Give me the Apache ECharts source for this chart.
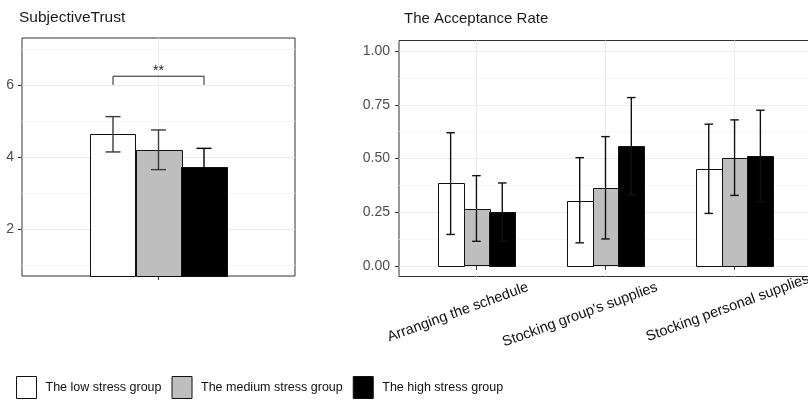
<!DOCTYPE html>
<html><head><meta charset="utf-8">
<script src="https://cdn.jsdelivr.net/npm/echarts@6/dist/echarts.min.js"></script>
<style>html,body{margin:0;padding:0;background:#fff}#c{width:808px;height:400px}</style>
</head><body><div id="c"></div>
<script>
// ---- data ----
const groups = ['The low stress group', 'The medium stress group', 'The high stress group'];
const trustMean = [4.63, 4.19, 3.72];
const trustLow  = [4.14, 3.65, 3.20];
const trustHigh = [5.12, 4.75, 4.24];
const trustTicks = [2, 4, 6];
const trustMinor = [1, 3, 5, 7];
const tasks = ['Arranging the schedule', "Stocking group's supplies", 'Stocking personal supplies'];
const lowRate  = [0.387, 0.302, 0.452];
const lowRateLo = [0.146, 0.107, 0.244];
const lowRateHi = [0.620, 0.504, 0.660];
const medRate  = [0.263, 0.361, 0.504];
const medRateLo = [0.114, 0.125, 0.328];
const medRateHi = [0.420, 0.602, 0.680];
const highRate = [0.250, 0.557, 0.512];
const highRateLo = [0.114, 0.330, 0.299];
const highRateHi = [0.386, 0.784, 0.725];
const rateTicks = [0, 0.25, 0.5, 0.75, 1];
const rateMinor = [0.125, 0.375, 0.625, 0.875];
const sigPair = [0, 2];      // low vs high
const sigLevel = 6.0, sigTop = 6.24, sigText = '**';

// ---- styles ----
const colors = ['#ffffff', '#bebebe', '#000000'];
const offsets = [-0.2, 0, 0.2];
const halfW = 0.1, capHalf = 0.033;
const FONT = '"Liberation Sans", Arial, sans-serif';
const labelTrail = ['\u00a0\u00a0\u00a0\u00a0\u00a0\u00a0', '\u00a0\u00a0\u00a0\u00a0\u00a0\u00a0', ''];

function barRender(offset, base, color) {
  return function (params, api) {
    const x = api.value(0) + offset, y = api.value(1);
    const p0 = api.coord([x - halfW, y]);
    const p1 = api.coord([x + halfW, base]);
    return { type: 'rect',
      shape: { x: Math.round(p0[0]) + 0.5, y: Math.round(p0[1]) + 0.5,
               width: Math.round(p1[0] - p0[0]), height: Math.round(p1[1] - p0[1]) },
      style: { fill: color, stroke: '#111', lineWidth: 1 } };
  };
}
function errRender(offset, stroke) {
  return function (params, api) {
    const x = api.value(0) + offset, lo = api.value(1), hi = api.value(2);
    const a = api.coord([x, lo]), b = api.coord([x, hi]);
    const c1 = api.coord([x - capHalf, hi]), c2 = api.coord([x + capHalf, hi]);
    const d1 = api.coord([x - capHalf, lo]), d2 = api.coord([x + capHalf, lo]);
    const st = { stroke: stroke, lineWidth: 1.4 };
    return { type: 'group', children: [
      { type: 'line', shape: { x1: a[0], y1: a[1], x2: b[0], y2: b[1] }, style: st },
      { type: 'line', shape: { x1: c1[0], y1: c1[1], x2: c2[0], y2: c2[1] }, style: st },
      { type: 'line', shape: { x1: d1[0], y1: d1[1], x2: d2[0], y2: d2[1] }, style: st }
    ] };
  };
}

const rateMeans = [lowRate, medRate, highRate];
const rateLos = [lowRateLo, medRateLo, highRateLo];
const rateHis = [lowRateHi, medRateHi, highRateHi];

const series = [];
groups.forEach(function (g, k) {
  series.push({ type: 'custom', name: g, xAxisIndex: 0, yAxisIndex: 0, z: 2,
    itemStyle: { color: colors[k], borderColor: '#111', borderWidth: 1 },
    renderItem: barRender(offsets[k], 0.7, colors[k]),
    data: [[1, trustMean[k]]] });
  series.push({ type: 'custom', name: g, xAxisIndex: 1, yAxisIndex: 2, z: 2,
    itemStyle: { color: colors[k], borderColor: '#111', borderWidth: 1 },
    renderItem: barRender(offsets[k], 0, colors[k]),
    data: rateMeans[k].map(function (v, i) { return [i + 1, v]; }) });
});
groups.forEach(function (g, k) {
  series.push({ type: 'custom', xAxisIndex: 0, yAxisIndex: 0, z: 3, silent: true,
    renderItem: errRender(offsets[k], k === 2 ? '#000' : '#3a3a3a'),
    data: [[1, trustLow[k], trustHigh[k]]] });
  series.push({ type: 'custom', xAxisIndex: 1, yAxisIndex: 2, z: 3, silent: true,
    renderItem: errRender(offsets[k], '#111'),
    data: rateMeans[k].map(function (v, i) { return [i + 1, rateLos[k][i], rateHis[k][i]]; }) });
});
series.push({ type: 'custom', xAxisIndex: 0, yAxisIndex: 0, z: 4, silent: true,
  renderItem: function (params, api) {
    const x0 = api.value(0) + offsets[sigPair[0]], x1 = api.value(0) + offsets[sigPair[1]];
    const a = api.coord([x0, api.value(1)]), b = api.coord([x0, api.value(2)]);
    const c = api.coord([x1, api.value(2)]), d = api.coord([x1, api.value(1)]);
    return { type: 'group', children: [
      { type: 'polyline', shape: { points: [a, b, c, d] }, style: { stroke: '#222', lineWidth: 1, fill: null } },
      { type: 'text', style: { text: sigText, x: (b[0] + c[0]) / 2, y: b[1] + 2, align: 'center',
        verticalAlign: 'bottom', fontSize: 14, fontFamily: FONT, fill: '#222' } }
    ] };
  },
  data: [[1, sigLevel, sigTop]] });

const gridLine = { lineStyle: { color: '#ebebeb', width: 1 } };
const minorLine = { lineStyle: { color: '#f3f3f3', width: 0.8 } };
const tickStyle = { length: 4, lineStyle: { color: '#333', width: 1 } };

const option = {
  backgroundColor: '#fff',
  animation: false,
  title: [
    { text: 'SubjectiveTrust', left: 19, top: 10, padding: 0,
      textStyle: { fontFamily: FONT, fontSize: 15.5, fontWeight: 'normal', color: '#1a1a1a' } },
    { text: 'The Acceptance Rate', left: 404, top: 11, padding: 0,
      textStyle: { fontFamily: FONT, fontSize: 15, fontWeight: 'normal', color: '#1a1a1a' } }
  ],
  legend: {
    left: 16, top: 376, orient: 'horizontal', itemWidth: 20, itemHeight: 22, itemGap: 10,
    padding: 0, selectedMode: false,
    textStyle: { fontFamily: FONT, fontSize: 12.5, color: '#111', padding: [0, 0, 0, 4] },
    data: groups.map(function (g, k) {
      return { name: g, icon: 'rect', itemStyle: { color: colors[k], borderColor: '#111', borderWidth: 1 } };
    })
  },
  grid: [
    { left: 22, top: 38, width: 273, height: 238, show: true, borderColor: '#333', borderWidth: 1,
      backgroundColor: '#fff', containLabel: false, outerBoundsMode: 'none' },
    { left: 399, top: 40.5, width: 413, height: 236, show: true, borderColor: '#333', borderWidth: 1,
      backgroundColor: '#fff', containLabel: false, outerBoundsMode: 'none' }
  ],
  xAxis: [
    { gridIndex: 0, type: 'value', min: 0.4, max: 1.6,
      axisLine: { show: false },
      axisTick: Object.assign({ show: true, customValues: [1] }, tickStyle),
      axisLabel: { show: false, customValues: [1] },
      splitLine: Object.assign({ show: true }, gridLine) },
    { gridIndex: 1, type: 'value', min: 0.4, max: 3.6,
      axisLine: { show: false },
      axisTick: Object.assign({ show: true, customValues: [1, 2, 3] }, tickStyle),
      axisLabel: { show: true, customValues: [1, 2, 3], rotate: 20, margin: 29,
        padding: [0, -79, 0, 0], hideOverlap: false,
        fontFamily: FONT, fontSize: 14.5, color: '#111',
        formatter: function (v) { const i = Math.round(v) - 1; return (tasks[i] || '') + (labelTrail[i] || ''); } },
      splitLine: Object.assign({ show: true }, gridLine) }
  ],
  yAxis: [
    { gridIndex: 0, type: 'value', min: 0.7, max: 7.3,
      axisLine: { show: false },
      axisTick: Object.assign({ show: true, customValues: trustTicks }, tickStyle),
      axisLabel: { customValues: trustTicks, margin: 8, fontFamily: FONT, fontSize: 14, color: '#4d4d4d' },
      splitLine: Object.assign({ show: true }, gridLine) },
    { gridIndex: 0, type: 'value', min: 0.7, max: 7.3, position: 'left',
      axisLine: { show: false },
      axisTick: { show: false, customValues: trustMinor },
      axisLabel: { show: false, customValues: trustMinor },
      splitLine: Object.assign({ show: true }, minorLine) },
    { gridIndex: 1, type: 'value', min: -0.05, max: 1.05,
      axisLine: { show: false },
      axisTick: Object.assign({ show: true, customValues: rateTicks }, tickStyle),
      axisLabel: { customValues: rateTicks, margin: 9, fontFamily: FONT, fontSize: 14, color: '#4d4d4d',
        formatter: function (v) { return v.toFixed(2); } },
      splitLine: Object.assign({ show: true }, gridLine) },
    { gridIndex: 1, type: 'value', min: -0.05, max: 1.05, position: 'left',
      axisLine: { show: false },
      axisTick: { show: false, customValues: rateMinor },
      axisLabel: { show: false, customValues: rateMinor },
      splitLine: Object.assign({ show: true }, minorLine) }
  ],
  series: series
};
const chart = echarts.init(document.getElementById('c'), null, { renderer: 'canvas' });
chart.setOption(option);
</script>
</body></html>
